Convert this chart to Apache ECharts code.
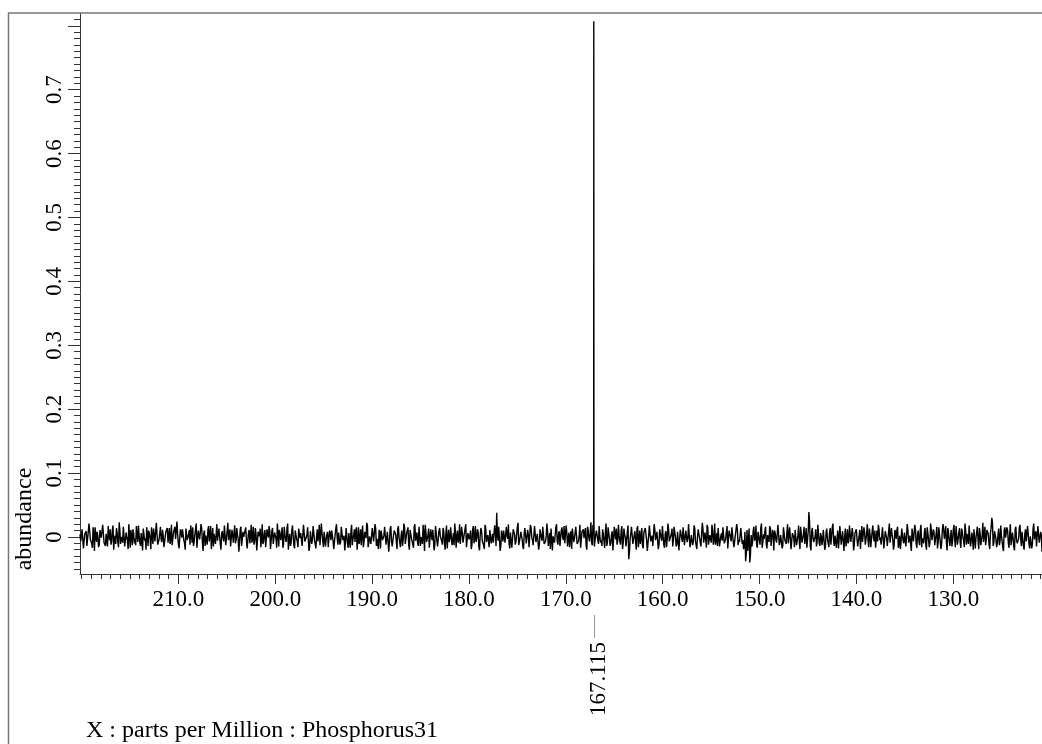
<!DOCTYPE html>
<html>
<head>
<meta charset="utf-8">
<script src="https://cdn.jsdelivr.net/npm/echarts@6/dist/echarts.min.js"></script>
<style>
html,body{margin:0;padding:0;background:#fff;}
#chart{width:1042px;height:744px;}
</style>
</head>
<body>
<div id="chart"></div>
<script>
// ---- axis ranges (ppm axis is reversed, as in NMR) ----
const xRange = [120.84, 220.16];
const yRange = [-0.058, 0.82];
const xMajorTicks = [130, 140, 150, 160, 170, 180, 190, 200, 210];
const yMajorTicks = [0, 0.1, 0.2, 0.3, 0.4, 0.5, 0.6, 0.7, 0.8];
const yLabelValues = [0, 0.1, 0.2, 0.3, 0.4, 0.5, 0.6, 0.7];
const yTickLabels = ['0', '0.1', '0.2', '0.3', '0.4', '0.5', '0.6', '0.7'];
const xMinorStep = 1;      // ppm
const yMinorStep = 0.01;   // abundance

// ---- spectrum: baseline noise read by eye, in milli-abundance.
// Samples are evenly spaced from 220.16 to 120.84 ppm; noiseA holds the even samples, noiseB the odd ones.
const noiseStartPpm = 220.16;
const noiseEndPpm = 120.84;
const noiseA = [
4,-9,13,-6,2,-14,8,11,-3,-17,6,15,-8,1,-12,9,-2,16,-10,5,
-15,3,12,-7,18,-4,-11,7,-16,10,0,-9,14,-5,8,-19,4,11,-13,6,
-3,17,-8,2,-14,9,13,-6,-20,5,10,-2,15,-11,3,-7,19,-12,6,-4,
11,-16,1,8,-9,14,-3,-13,7,16,-6,4,-18,12,-1,9,-10,13,-5,2,
-12,7,15,-8,3,-17,10,-4,20,-9,6,-14,1,11,-7,17,-2,-15,8,4,
-6,13,-11,5,-1,18,-13,9,-5,12,-16,2,7,-10,14,-3,-8,16,-12,0,
10,-4,-15,11,3,-9,16,-7,5,-19,8,13,-2,-11,6,-16,12,-1,9,-6,
14,-10,2,-17,7,11,-5,15,-12,4,-8,21,-3,-14,9,1,-18,10,-7,13,
-2,6,-13,17,-9,3,12,-15,8,-4,15,-11,0,-7,19,-10,5,-16,11,-3,
8,-14,4,10,-6,-18,13,-1,7,-12,16,-5,2,-9,14,-17,6,9,-13,3,
-8,15,-4,-11,12,5,-16,8,-2,18,-9,1,-14,11,-6,13,-3,-19,7,10,
-5,2,14,-12,6,-8,17,-15,3,9,-7,12,-1,-16,10,-4,15,-10,4,-13,
11,-2,-9,16,-6,7,-14,13,0,-11,5,19,-8,3,-17,12,-5,8,-12,6,
-15,9,1,-7,14,-10,4,-18,11,-3,16,-6,-13,7,2,-9,20,-11,5,-1,
13,-16,6,-4,10,-12,17,-2,-8,12,-15,3,9,-6,-19,14,-7,1,11,-10,
5,-12,8,38,-6,13,-14,2,10,-9,16,-3,-11,7,-17,12,4,-7,15,-13,
-1,9,-15,6,11,-8,3,-16,14,-5,-10,18,-2,7,-13,10,-6,16,-11,2,
8,-4,-19,12,1,-9,15,-7,5,-14,11,-1,17,-12,6,-3,-16,9,13,-8,
-6,14,-10,3,-17,8,12,-4,-13,16,-2,6,-9,19,-15,4,10,-11,1,-5,
12,-7,7,-14,15,-3,-10,9,-18,5,13,-6,2,-12,17,-9,4,-15,8,-35,
-4,16,-11,3,-8,13,-16,10,-1,-13,7,14,-5,-10,18,-7,2,-14,11,-2,
6,-12,15,-6,1,-17,9,-3,12,-9,5,-15,16,-1,-11,8,-4,13,-8,3,
-14,10,-2,17,-10,4,-7,14,-13,0,11,-5,-16,12,-8,6,19,-12,3,-9,
9,-3,-12,6,14,-15,2,-6,13,-11,8,-18,10,-1,15,-7,-13,5,12,-4,
-10,17,-5,-14,-38,11,-6,-40,3,-9,16,-2,-12,8,-6,14,-17,4,9,-11,
3,-8,13,-16,5,10,-4,-12,18,-7,1,-14,12,-3,7,-10,15,-19,6,-1,
11,-13,2,-6,16,-9,4,-11,14,-5,39,-15,8,-2,-10,12,-7,17,-14,1,
-5,9,-16,13,-3,6,-12,15,-8,2,-17,10,-4,14,-11,7,-1,-15,12,-6,
16,-10,4,-13,8,-3,-18,11,1,-8,15,-12,6,-5,13,-16,9,-2,10,-14,
-7,12,-1,-11,17,-6,3,-14,9,-9,14,-4,-13,7,11,-17,2,-8,16,-10,
5,-15,10,-3,-12,13,-7,19,-11,4,-6,12,-16,1,8,-13,15,-5,-9,11,
-2,7,-14,16,-8,3,-19,9,12,-4,-10,14,-6,0,-15,11,-3,17,-12,6,
-9,13,-1,-16,10,5,-11,15,-7,-2,12,-18,8,-5,14,-13,3,-8,16,-4,
10,-12,6,30,-14,9,-3,-10,13,-6,2,-17,11,-1,15,-9,4,-13,7,-16,
12,-5,-11,14,-2,8,-15,5,-7,17,-10,1,-18,13,-4,9,-12,16,-6,3
];
const noiseB = [
-7,12,-18,5,9,-13,21,-4,-10,15,-22,3,8,-16,11,-1,19,-9,-14,6,
17,-5,-12,10,-20,2,14,-8,23,-11,-3,16,-15,7,-6,20,-17,1,12,-10,
-13,4,18,-9,6,-21,11,-2,15,-14,9,-19,3,13,-7,22,-12,-4,16,-8,
2,-17,9,14,-6,-11,19,-15,5,-3,24,-10,-18,8,12,-5,-20,15,-1,11,
18,-9,-14,3,21,-16,7,-6,13,-22,10,2,-12,17,-8,-19,14,5,-11,20,
-4,13,-20,9,-7,16,-13,22,-2,-15,11,-9,18,-5,4,-23,12,-14,8,-1,
15,-18,6,-10,19,-3,-12,14,-21,8,1,-16,20,-7,11,-13,3,17,-19,9,
-11,7,-2,21,-15,12,-8,-17,16,-4,13,-20,5,-9,18,-12,10,-3,-16,14,
6,-14,19,-7,-1,15,-22,9,-11,17,-5,-18,12,2,-13,21,-6,8,-15,4,
-16,10,-5,13,-19,3,20,-12,7,-8,16,-2,-21,14,-10,6,-17,19,-3,12,
9,-20,15,-4,-13,18,-9,5,22,-16,1,-11,14,-7,20,-14,-2,11,-18,7,
-3,16,-12,8,-23,13,-6,-15,10,4,-19,17,-9,2,-14,21,-11,6,15,-20,
12,-7,-17,20,-1,-10,16,-14,3,19,-22,8,-5,13,-16,4,11,-21,17,-6,
-18,14,2,-12,9,-20,18,-3,-8,15,-13,6,21,-17,10,-4,-11,16,-9,1,
20,-15,7,-5,-19,12,-10,17,-2,8,-21,14,-6,-13,19,-8,3,-16,11,-12,
-9,18,-14,4,16,-22,10,-7,13,-11,2,20,-18,6,-3,15,-12,-6,22,-15,
8,-4,-19,14,-10,11,-16,19,-1,-13,17,-8,5,-20,12,-2,16,-11,-7,21,
-14,6,13,-21,3,-9,20,-12,9,-17,15,-5,-10,18,-15,7,1,-19,13,-3,
16,-11,-6,19,-16,8,-2,14,-20,11,-7,23,-13,4,-18,10,-5,17,-9,-14,
5,-17,21,-8,12,-14,3,-21,16,-4,-12,19,-6,10,-19,13,-1,-15,18,-24,
-6,15,-13,9,-20,17,-3,-11,14,-18,6,11,-22,2,16,-9,-14,20,-5,8,
-19,12,-1,17,-12,5,-16,21,-7,-10,13,-4,19,-15,8,-21,11,-2,15,-13,
10,-8,20,-16,3,-13,18,-6,-19,12,-2,-15,22,-9,7,-17,14,-11,4,19,
-12,21,-5,-14,11,-18,6,15,-10,-3,17,-20,9,-7,13,-16,2,20,-13,-8,
14,-11,-19,8,-26,-22,13,-28,-15,10,-6,18,-17,5,-12,21,-9,-3,16,-18,
-2,17,-14,11,-21,6,-9,19,-13,3,-18,15,-5,-11,20,-7,12,-20,8,-16,
13,-6,18,-19,4,-12,16,-2,-17,9,24,-21,14,-8,1,-15,19,-10,6,-13,
11,-20,7,-3,-16,14,-9,21,-14,5,-1,-18,17,-12,9,-22,13,-6,-10,18,
-8,14,-21,6,12,-15,2,-19,17,-11,8,-4,20,-16,3,-13,18,-7,-17,10,
19,-5,-12,15,-18,9,-1,-14,21,-8,4,-20,11,-3,16,-11,-19,13,-6,7,
-15,20,-9,2,-22,16,-4,12,-17,10,-13,19,-2,-10,14,-20,6,-16,21,-5,
12,-13,4,-18,15,-7,-11,20,-3,17,-21,8,-14,11,-6,19,-16,3,-9,14,
-17,9,-6,21,-12,-3,18,-15,7,-20,13,-1,16,-19,5,-10,22,-8,-13,11,
4,-19,14,22,-9,11,-16,3,-13,18,-7,-22,15,-4,10,-17,20,-11,-2,-21,
16,-10,-3,19,-14,6,-20,12,-8,15,-18,2,-12,21,-5,-15,17,-9,8,-23
];

// ---- the single resonance ----
const peakPpm = [167.13, 167.115, 167.10];
const peakAbundance = [0.015, 0.807, 0.022];
const peakLabelPpm = [167.115];
const peakLabels = ['167.115'];

const xAxisName = 'X : parts per Million : Phosphorus31';
const yAxisName = 'abundance';

// ---- build series data ----
const nS = noiseA.length + noiseB.length;
const stepPpm = (noiseStartPpm - noiseEndPpm) / (nS - 1);
let pts = [];
for (let k = 0; k < nS; k++) {
  const v = (k % 2 === 0) ? noiseA[k >> 1] : noiseB[k >> 1];
  pts.push([noiseStartPpm - k * stepPpm, v / 1000]);
}
for (let i = 0; i < peakPpm.length; i++) pts.push([peakPpm[i], peakAbundance[i]]);
pts.sort((a, b) => b[0] - a[0]);

const xMinorTicks = [];
for (let v = Math.ceil(xRange[0]); v <= Math.floor(xRange[1]); v += xMinorStep) xMinorTicks.push(v);
const yMinorTicks = [];
for (let k = Math.ceil(yRange[0] / yMinorStep); k * yMinorStep <= yRange[1]; k++) yMinorTicks.push(+(k * yMinorStep).toFixed(2));

const FONT = "'Liberation Serif', 'Times New Roman', serif";
const AX = '#333';

const chart = echarts.init(document.getElementById('chart'), null, {renderer: 'canvas'});
const option = {
  animation: false,
  backgroundColor: '#fff',
  grid: {left: 80, top: 13, right: 0, bottom: 170, containLabel: false, outerBoundsMode: 'none'},
  xAxis: [
    {
      type: 'value', min: xRange[0], max: xRange[1], inverse: true, position: 'bottom',
      axisLine: {show: true, onZero: false, lineStyle: {color: AX, width: 1}},
      axisTick: {show: true, customValues: xMajorTicks, length: 10, lineStyle: {color: AX}},
      axisLabel: {customValues: xMajorTicks, formatter: v => v.toFixed(1), fontFamily: FONT, fontSize: 23, color: '#000', margin: 14},
      splitLine: {show: false}
    },
    {
      type: 'value', min: xRange[0], max: xRange[1], inverse: true, position: 'bottom',
      axisLine: {show: false, onZero: false},
      axisTick: {show: true, customValues: xMinorTicks, length: 5, lineStyle: {color: AX}},
      axisLabel: {show: false},
      splitLine: {show: false}
    }
  ],
  yAxis: [
    {
      type: 'value', min: yRange[0], max: yRange[1], position: 'left',
      axisLine: {show: true, onZero: false, lineStyle: {color: AX, width: 1}},
      axisTick: {show: true, customValues: yMajorTicks, length: 12, lineStyle: {color: AX}},
      axisLabel: {
        customValues: yLabelValues, rotate: 90, margin: 14,
        formatter: v => { const i = yLabelValues.findIndex(t => Math.abs(t - v) < 1e-9); return i >= 0 ? yTickLabels[i] : ''; },
        fontFamily: FONT, fontSize: 23, color: '#000'
      },
      splitLine: {show: false}
    },
    {
      type: 'value', min: yRange[0], max: yRange[1], position: 'left',
      axisLine: {show: false, onZero: false},
      axisTick: {show: true, customValues: yMinorTicks, length: 6, lineStyle: {color: AX}},
      axisLabel: {show: false},
      splitLine: {show: false}
    }
  ],
  series: [{
    type: 'line', xAxisIndex: 0, yAxisIndex: 0, data: pts,
    symbol: 'none', sampling: 'none', smooth: false, large: false,
    lineStyle: {color: '#000', width: 1.4}
  }]
};
chart.setOption(option);

const axisY = chart.convertToPixel({yAxisIndex: 0}, yRange[0]);
const gr = [
  {type: 'rect', silent: true, z: 100, shape: {x: 8.5, y: 13, width: 1200, height: 900},
   style: {fill: 'none', stroke: '#777', lineWidth: 1.5}},
  {type: 'text', silent: true, x: 25, y: 519, rotation: Math.PI / 2,
   style: {text: yAxisName, fontFamily: FONT, fontSize: 24, fill: '#000', align: 'center', verticalAlign: 'middle'}},
  {type: 'text', silent: true, x: 86, y: 731,
   style: {text: xAxisName, fontFamily: FONT, fontSize: 24, fill: '#000', align: 'left', verticalAlign: 'middle'}}
];
peakLabelPpm.forEach((p, i) => {
  const px = Math.round(chart.convertToPixel({xAxisIndex: 0}, p)) + 0.5;
  gr.push({type: 'line', silent: true, shape: {x1: px, y1: axisY + 41, x2: px, y2: axisY + 64},
    style: {stroke: '#999', lineWidth: 1}});
  gr.push({type: 'text', silent: true, x: px + 4.5, y: axisY + 105, rotation: Math.PI / 2,
    style: {text: peakLabels[i], fontFamily: FONT, fontSize: 23, fill: '#000', align: 'center', verticalAlign: 'middle'}});
});
chart.setOption({graphic: gr});
</script>
</body>
</html>
